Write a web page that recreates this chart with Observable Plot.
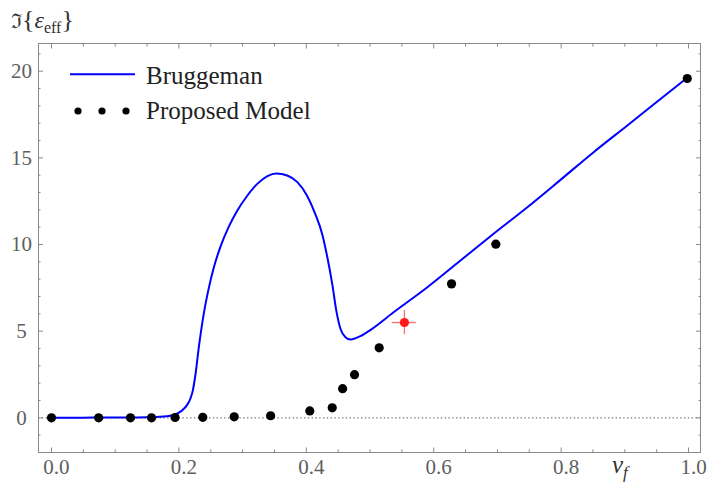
<!DOCTYPE html>
<html>
<head>
<meta charset="utf-8">
<script src="https://cdn.jsdelivr.net/npm/d3@7"></script>
<script src="https://cdn.jsdelivr.net/npm/@observablehq/plot@0.6"></script>
<style>
  html, body { margin: 0; padding: 0; background: #fff; }
  #wrap { position: relative; width: 708px; height: 482px; overflow: hidden; font-family: "Liberation Serif", "Times New Roman", serif; }
  #chart { position: absolute; left: 0; top: 0; }
  #chart svg text { font-family: "Liberation Serif", "Times New Roman", serif; }
  .lab { position: absolute; line-height: 1; white-space: nowrap; font-family: "Liberation Serif", "Times New Roman", serif; }
</style>
</head>
<body>
<div id="wrap">
  <div id="chart"></div>
  <div class="lab" id="ylab" style="left:11px; top:7px; font-size:24px; color:#333;">
    <span style="font-family:'DejaVu Serif',serif; font-size:20px;">ℑ</span><span style="font-size:26px;">{</span><i>ε</i><span style="font-size:16px; position:relative; top:5px;">eff</span><span style="font-size:26px;">}</span>
  </div>
  <div class="lab" id="xlab" style="left:612px; top:452px; font-size:25px; color:#333;">
    <i>v</i><i style="font-size:17px; position:relative; top:5px;">f</i>
  </div>
  <div id="legend"></div>
</div>
<script>
// ---- data ----
const bruggemanX = [0.0, 0.05, 0.10, 0.15, 0.17, 0.19, 0.20, 0.207, 0.213, 0.218, 0.222, 0.226, 0.231, 0.239, 0.247, 0.255, 0.265, 0.278, 0.2915, 0.307, 0.323, 0.339, 0.353, 0.370, 0.386, 0.401, 0.414, 0.425, 0.433, 0.4407, 0.447, 0.4537, 0.4615, 0.4694, 0.485, 0.501, 0.537, 0.590, 0.642, 0.694, 0.747, 0.799, 0.851, 0.904, 0.956, 0.998];
const bruggemanY = [0.0, 0.01, 0.02, 0.04, 0.06, 0.15, 0.30, 0.50, 0.75, 1.10, 1.60, 2.50, 4.00, 6.00, 7.50, 8.70, 9.85, 11.0, 11.95, 12.80, 13.50, 13.95, 14.10, 13.98, 13.60, 12.83, 11.77, 10.60, 9.27, 7.73, 6.20, 5.13, 4.65, 4.52, 4.72, 5.08, 6.09, 7.54, 9.08, 10.62, 12.15, 13.73, 15.33, 16.87, 18.40, 19.62];

const modelX = [0.0, 0.074, 0.124, 0.157, 0.194, 0.2375, 0.2868, 0.344, 0.4055, 0.4407, 0.457, 0.4757, 0.5144, 0.628, 0.6975, 0.998];
const modelY = [0.0, 0.0, 0.0, 0.0, 0.02, 0.03, 0.06, 0.12, 0.40, 0.58, 1.68, 2.49, 4.04, 7.73, 10.02, 19.58];

const highlightX = [0.554];
const highlightY = [5.5];
const highlightErrX = [0.019];
const highlightErrY = [0.7];

const seriesNames = ["Bruggeman", "Proposed Model"];
const seriesColors = ["#0000ff", "#000000"];

const xMajor = [0, 0.2, 0.4, 0.6, 0.8, 1.0];
const xMinor = [0.05, 0.1, 0.15, 0.25, 0.3, 0.35, 0.45, 0.5, 0.55, 0.65, 0.7, 0.75, 0.85, 0.9, 0.95];
const yMajor = [0, 5, 10, 15, 20];
const yMinor = [-2, -1, 1, 2, 3, 4, 6, 7, 8, 9, 11, 12, 13, 14, 16, 17, 18, 19, 21];

// ---- tables ----
const bruggeman = bruggemanX.map((x, i) => ({x, y: bruggemanY[i]}));
const model = modelX.map((x, i) => ({x, y: modelY[i]}));
const highlight = highlightX.map((x, i) => ({x, y: highlightY[i], ex: highlightErrX[i], ey: highlightErrY[i]}));

const frameColor = "#8a8a8a";
const labelColor = "#5e5e5e";
const serif = "'Liberation Serif', 'Times New Roman', serif";
const noText = () => "";

const chart = Plot.plot({
  width: 708,
  height: 482,
  marginLeft: 38,
  marginRight: 8,
  marginTop: 43,
  marginBottom: 30,
  x: {domain: [-0.0204, 1.0188], label: null},
  y: {domain: [-2.0, 21.6], label: null},
  style: {background: "white", fontFamily: serif, overflow: "visible"},
  marks: [
    Plot.ruleY([0], {stroke: "#777", strokeDasharray: "1.4,2.4", strokeWidth: 1.3}),
    Plot.line(bruggeman, {x: "x", y: "y", stroke: seriesColors[0], strokeWidth: 2, curve: "monotone-x"}),
    Plot.dot(model, {x: "x", y: "y", r: 4.6, fill: seriesColors[1], stroke: "none"}),
    Plot.ruleY(highlight, {y: "y", x1: d => d.x - d.ex, x2: d => d.x + d.ex, stroke: "#ff4d4d", strokeWidth: 1.3, strokeOpacity: 0.8}),
    Plot.ruleX(highlight, {x: "x", y1: d => d.y - d.ey, y2: d => d.y + d.ey, stroke: "#ff4d4d", strokeWidth: 1.3, strokeOpacity: 0.8}),
    Plot.dot(highlight, {x: "x", y: "y", r: 4.6, fill: "#ff1a1a", stroke: "none"}),
    Plot.frame({stroke: frameColor, strokeWidth: 1}),
    // labels
    Plot.axisX({ticks: xMajor, anchor: "bottom", tickSize: 0, tickPadding: 7, tickFormat: d3.format(".1f"), fontSize: 21, fontFamily: serif, color: labelColor, dx: 5, label: null}),
    Plot.axisY({ticks: yMajor, anchor: "left", tickSize: 0, tickPadding: 17, textAnchor: "middle", tickFormat: d3.format("d"), fontSize: 21, fontFamily: serif, color: labelColor, label: null}),
    // inward ticks on all sides
    Plot.axisX({ticks: xMajor, anchor: "bottom", tickSize: -4.5, tickFormat: noText, color: frameColor, label: null}),
    Plot.axisX({ticks: xMinor, anchor: "bottom", tickSize: -2.7, tickFormat: noText, color: frameColor, label: null}),
    Plot.axisX({ticks: xMajor, anchor: "top", tickSize: -4.5, tickFormat: noText, color: frameColor, label: null}),
    Plot.axisX({ticks: xMinor, anchor: "top", tickSize: -2.7, tickFormat: noText, color: frameColor, label: null}),
    Plot.axisY({ticks: yMajor, anchor: "left", tickSize: -5, tickFormat: noText, color: frameColor, label: null}),
    Plot.axisY({ticks: yMinor, anchor: "left", tickSize: -2.5, tickFormat: noText, color: frameColor, label: null}),
    Plot.axisY({ticks: yMajor, anchor: "right", tickSize: -5, tickFormat: noText, color: frameColor, label: null}),
    Plot.axisY({ticks: yMinor, anchor: "right", tickSize: -2.5, tickFormat: noText, color: frameColor, label: null})
  ]
});
document.getElementById("chart").appendChild(chart);

// ---- legend (HTML overlay) ----
const legend = document.getElementById("legend");
const rowTops = [63, 98];
seriesNames.forEach((name, i) => {
  const sw = document.createElementNS("http://www.w3.org/2000/svg", "svg");
  sw.setAttribute("width", 70);
  sw.setAttribute("height", 20);
  sw.style.position = "absolute";
  sw.style.left = "66px";
  sw.style.top = (i === 0 ? 64 : 101) + "px";
  if (i === 0) {
    const l = document.createElementNS("http://www.w3.org/2000/svg", "line");
    l.setAttribute("x1", 4); l.setAttribute("x2", 69);
    l.setAttribute("y1", 10.3); l.setAttribute("y2", 10.3);
    l.setAttribute("stroke", seriesColors[0]); l.setAttribute("stroke-width", 2);
    sw.appendChild(l);
  } else {
    [12, 36, 60].forEach(cx => {
      const c = document.createElementNS("http://www.w3.org/2000/svg", "circle");
      c.setAttribute("cx", cx); c.setAttribute("cy", 10); c.setAttribute("r", 3.6);
      c.setAttribute("fill", seriesColors[1]);
      sw.appendChild(c);
    });
  }
  legend.appendChild(sw);
  const t = document.createElement("div");
  t.className = "lab";
  t.textContent = name;
  t.style.left = "146px";
  t.style.top = rowTops[i] + "px";
  t.style.fontSize = "25px";
  t.style.color = "#222";
  legend.appendChild(t);
});
</script>
</body>
</html>
